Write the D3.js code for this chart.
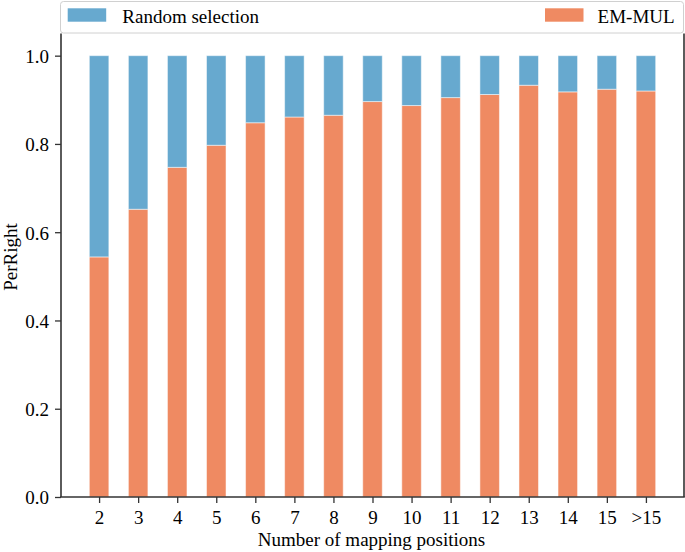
<!DOCTYPE html>
<html>
<head>
<meta charset="utf-8">
<script src="https://cdn.jsdelivr.net/npm/d3@7"></script>
<style>
body { margin: 0; background: #fff; }
svg { display: block; }
text { font-family: "Liberation Serif", "Times New Roman", serif; fill: #000; }
</style>
</head>
<body>
<svg id="chart" width="685" height="552"></svg>
<script>
const categories = ["2","3","4","5","6","7","8","9","10","11","12","13","14","15",">15"];
const emMul = [0.544,0.652,0.747,0.797,0.848,0.861,0.865,0.896,0.887,0.905,0.912,0.933,0.918,0.924,0.920];
const randomSel = emMul.map(v => 1 - v); // remainder stacked to 1.0
const yTicks = [0.0,0.2,0.4,0.6,0.8,1.0];
const seriesNames = ["Random selection","EM-MUL"];
const colors = {"Random selection":"#67a9cf","EM-MUL":"#ef8a62"};

const svg = d3.select("#chart");
const mLeft = 61, mRight = 684, mTop = 33.6, mBottom = 497;
const fs = 19;

const n = categories.length;
const x = d3.scaleLinear().domain([-0.975, n - 1 + 0.975]).range([mLeft, mRight]);
const y = d3.scaleLinear().domain([0, 1.05]).range([mBottom, mTop]);
const barW = 0.5;

const g = svg.append("g");

categories.forEach((c, i) => {
  g.append("rect")
    .attr("x", x(i - barW/2)).attr("width", x(barW) - x(0))
    .attr("y", y(emMul[i])).attr("height", y(0) - y(emMul[i]))
    .attr("fill", colors["EM-MUL"])
    .attr("stroke", "#fff").attr("stroke-opacity", 0.5).attr("stroke-width", 1);
  g.append("rect")
    .attr("x", x(i - barW/2)).attr("width", x(barW) - x(0))
    .attr("y", y(emMul[i] + randomSel[i])).attr("height", y(emMul[i]) - y(emMul[i] + randomSel[i]))
    .attr("fill", colors["Random selection"])
    .attr("stroke", "#fff").attr("stroke-opacity", 0.5).attr("stroke-width", 1);
});

const xAxis = d3.axisBottom(x)
  .tickValues(d3.range(n))
  .tickFormat(i => categories[i])
  .tickSize(6).tickPadding(4);
const gx = svg.append("g").attr("transform", `translate(0,${mBottom})`).call(xAxis);
gx.select(".domain").remove();
gx.selectAll(".tick line").attr("stroke", "#333").attr("stroke-width", 1.3);
gx.selectAll(".tick text").attr("font-size", fs).attr("font-family", "Liberation Serif")
  .attr("fill", "#000").attr("y", 27).attr("dy", 0);

const yAxis = d3.axisLeft(y)
  .tickValues(yTicks)
  .tickFormat(d3.format(".1f"))
  .tickSize(6).tickPadding(6);
const gy = svg.append("g").attr("transform", `translate(${mLeft},0)`).call(yAxis);
gy.select(".domain").remove();
gy.selectAll(".tick line").attr("stroke", "#333").attr("stroke-width", 1.3);
gy.selectAll(".tick text").attr("font-size", fs).attr("font-family", "Liberation Serif")
  .attr("fill", "#000").attr("dy", "0.36em");

const sp = svg.append("g").attr("stroke", "#333").attr("stroke-width", 1.6).attr("fill", "none");
sp.append("line").attr("x1", mLeft).attr("x2", mLeft).attr("y1", mTop).attr("y2", mBottom);
sp.append("line").attr("x1", mRight).attr("x2", mRight).attr("y1", mTop).attr("y2", mBottom);
sp.append("line").attr("x1", mLeft - 0.8).attr("x2", mRight + 0.8).attr("y1", mBottom).attr("y2", mBottom);

svg.append("text").attr("x", (mLeft + mRight)/2 - 1).attr("y", 546)
  .attr("text-anchor", "middle").attr("font-size", fs)
  .text("Number of mapping positions");
svg.append("text").attr("transform", `translate(17,257) rotate(-90)`)
  .attr("text-anchor", "middle").attr("font-size", fs)
  .text("PerRight");

const lg = svg.append("g");
lg.append("rect").attr("x", 60.5).attr("y", 1.5).attr("width", 623).attr("height", 31.5)
  .attr("rx", 3).attr("fill", "#fff").attr("fill-opacity", 0.8)
  .attr("stroke", "#d0d0d0").attr("stroke-width", 1);
const legendItems = [
  {name: seriesNames[0], px: 67.7, tx: 122.3},
  {name: seriesNames[1], px: 545, tx: 597.6}
];
legendItems.forEach(it => {
  lg.append("rect").attr("x", it.px).attr("y", 8.3).attr("width", 38.5).attr("height", 13.4)
    .attr("fill", colors[it.name]);
  lg.append("text").attr("x", it.tx).attr("y", 22.5).attr("font-size", fs).text(it.name);
});
</script>
</body>
</html>
